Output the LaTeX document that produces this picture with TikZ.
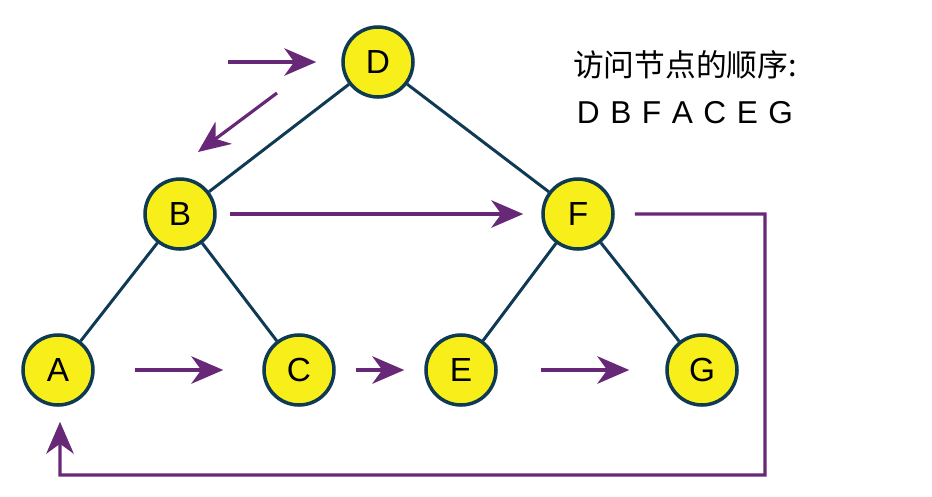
\documentclass[tikz,border=0pt]{standalone}
\usepackage{fontspec}
\setmainfont{Liberation Sans}
\newfontfamily\cjk{Noto Sans CJK SC}
\newfontfamily\seqfont[WordSpace=1.2]{Liberation Sans}
\usetikzlibrary{positioning,calc,arrows.meta}
\definecolor{nodeyellow}{RGB}{248,238,26}
\definecolor{edgeblue}{RGB}{14,58,84}
\definecolor{visitpurple}{RGB}{104,40,120}

\begin{document}
\begin{tikzpicture}[
	tree/.style={circle,draw=edgeblue,fill=nodeyellow,line width=2pt,minimum size=1.4cm,inner sep=0pt,font=\fontsize{19}{22}\selectfont},
	link/.style={draw=edgeblue,line width=1.7pt},
	visit/.style={draw=visitpurple,line width=1.8pt,-{Stealth[length=0.64cm,width=0.55cm,inset=0.2cm]}},
	node distance=3.04cm and 3.98cm,on grid
	]
	\useasboundingbox (0,0) rectangle (18.64,-9.92);
	\node[tree] at (7.56,-1.24) (D) {D};
	\node[tree,below left=3.04cm and 3.96cm of D] (B) {B};
	\node[tree,below right=3.04cm and 4.0cm of D] (F) {F};
	\node[tree,below left=3.12cm and 2.44cm of B] (A) {A};
	\node[tree,below right=3.12cm and 2.38cm of B] (C) {C};
	\node[tree,below left=3.12cm and 2.34cm of F] (E) {E};
	\node[tree,below right=3.12cm and 2.48cm of F] (G) {G};
	%
	\draw[link] (D) -- (B);
	\draw[link] (D) -- (F);
	\draw[link] (B) -- (A);
	\draw[link] (B) -- (C);
	\draw[link] (F) -- (E);
	\draw[link] (F) -- (G);
	%
	\coordinate (s1) at (4.56,-1.24);
	\coordinate (s2) at (5.54,-1.86);
	\coordinate (t2) at (3.96,-3.04);
	\coordinate (r1) at (15.3,-4.28);
	\coordinate (r2) at (1.2,-9.5);
	\draw[visit,shorten >=0.5cm] (s1) -- (D);
	\draw[visit] (s2) -- (t2);
	\draw[visit,shorten <=0.26cm,shorten >=0.36cm] (B) -- (F);
	\draw[visit,shorten <=0.8cm,shorten >=0.78cm] (A) -- (C);
	\draw[visit,shorten <=0.4cm,shorten >=0.4cm] (C) -- (E);
	\draw[visit,shorten <=0.86cm,shorten >=0.72cm] (E) -- (G);
	\draw[visit,line join=miter,shorten <=0.4cm,shorten >=0.3cm] (F.east) -- (r1) |- (r2) -- (r2 |- A.south);
	%
	\node at (13.7,-1.3) (title) {\cjk\fontsize{17.5}{20}\selectfont 访问节点的顺序:};
	\node at (13.7,-2.26) (order) {\seqfont\fontsize{18}{21}\selectfont D B F A C E G};
\end{tikzpicture}
\end{document}
